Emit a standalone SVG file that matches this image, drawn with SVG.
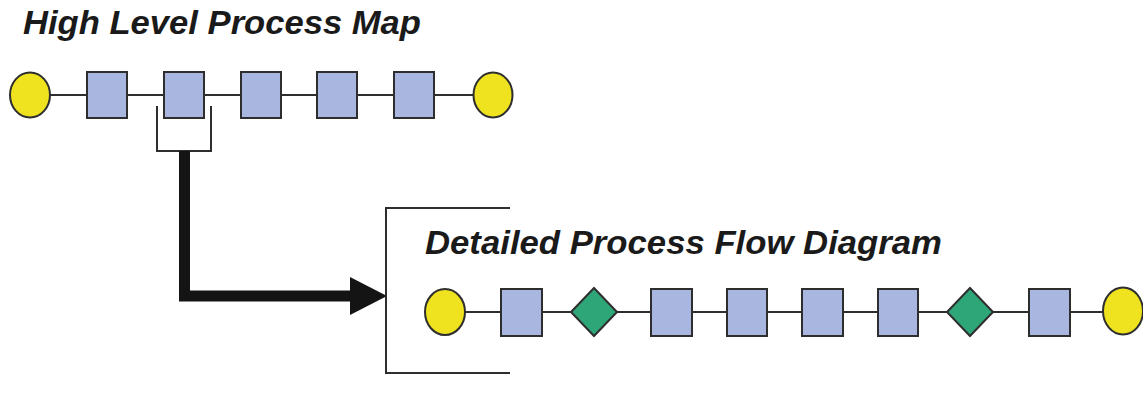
<svg xmlns="http://www.w3.org/2000/svg" width="1143" height="404" viewBox="0 0 1143 404">
<style>
.t{font-family:"Liberation Sans",Arial,sans-serif;font-weight:bold;font-style:italic;fill:#1a1a1a}
.box{fill:#a9b7e0;stroke:#2e2e2e;stroke-width:2}
.term{fill:#efe21e;stroke:#2e2e2e;stroke-width:2}
.dec{fill:#2ea677;stroke:#2e2e2e;stroke-width:2}
.ln{stroke:#2e2e2e;stroke-width:2;fill:none}
</style>
<rect width="1143" height="404" fill="#ffffff"/>
<text class="t" x="23" y="34" font-size="34" textLength="398" lengthAdjust="spacingAndGlyphs">High Level Process Map</text>
<text class="t" x="425" y="254" font-size="33" textLength="517" lengthAdjust="spacingAndGlyphs">Detailed Process Flow Diagram</text>
<g id="connectors">
<line class="ln" x1="50" y1="95" x2="473" y2="95"/>
<line class="ln" x1="465" y1="312" x2="1103" y2="312"/>
<path class="ln" d="M157,106 V151 H211 V106" stroke-width="1.5"/>
<path d="M184.5,151 V296 H352" fill="none" stroke="#141414" stroke-width="11"/>
<polygon points="350,277 387,296 350,315" fill="#141414"/>
<path class="ln" d="M510,208 H386 V373 H510"/>
</g>
<g id="h-start"><ellipse class="term" cx="30" cy="95" rx="20" ry="22.5"/></g>
<g id="h1"><rect class="box" x="87" y="72" width="40" height="46"/></g>
<g id="h2"><rect class="box" x="164" y="72" width="40" height="46"/></g>
<g id="h3"><rect class="box" x="241" y="72" width="40" height="46"/></g>
<g id="h4"><rect class="box" x="317" y="72" width="40" height="46"/></g>
<g id="h5"><rect class="box" x="394" y="72" width="40" height="46"/></g>
<g id="h-end"><ellipse class="term" cx="493" cy="95" rx="19.5" ry="22.5"/></g>
<g id="d-start"><ellipse class="term" cx="445" cy="312" rx="20" ry="23"/></g>
<g id="d1"><rect class="box" x="501" y="289" width="41" height="47"/></g>
<g id="d-dec1"><polygon class="dec" points="594,288 617,312 594,336 571,312"/></g>
<g id="d2"><rect class="box" x="651" y="289" width="41" height="47"/></g>
<g id="d3"><rect class="box" x="727" y="289" width="40" height="47"/></g>
<g id="d4"><rect class="box" x="802" y="289" width="41" height="47"/></g>
<g id="d5"><rect class="box" x="878" y="289" width="40" height="47"/></g>
<g id="d-dec2"><polygon class="dec" points="970,288 993,312 970,336 947,312"/></g>
<g id="d6"><rect class="box" x="1029" y="289" width="41" height="47"/></g>
<g id="d-end"><ellipse class="term" cx="1123" cy="311" rx="20" ry="23.5"/></g>
</svg>
